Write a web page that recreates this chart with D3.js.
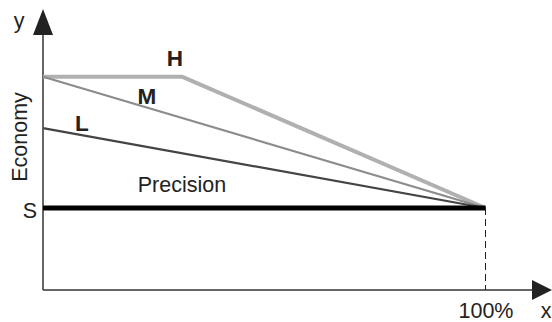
<!DOCTYPE html>
<html>
<head>
<meta charset="utf-8">
<script src="https://cdn.jsdelivr.net/npm/d3@7"></script>
<style>
  body { margin: 0; background: #fff; }
  text { font-family: "Liberation Sans", Arial, sans-serif; fill: #222; }
</style>
</head>
<body>
<script>
const width = 552;
const height = 322;

// percent along x, level along y (arbitrary units)
const levelS = 4;
const seriesH = [[0, 10.4], [31.5, 10.4], [100, 4]];
const seriesM = [[0, 10.4], [100, 4]];
const seriesL = [[0, 7.9], [100, 4]];
const seriesS = [[0, 4], [100, 4]];
const lineLabels = [
  { text: 'H', at: [29.8, 10.95] },
  { text: 'M', at: [23.5, 9.05] },
  { text: 'L', at: [8.8, 7.75] }
];

const x = d3.scaleLinear().domain([0, 100]).range([43, 485.5]);
const y = d3.scaleLinear().domain([0, 10]).range([290, 85]);

const svg = d3.select('body').append('svg')
  .attr('width', width)
  .attr('height', height);

const line = d3.line().x(d => x(d[0])).y(d => y(d[1]));

// axes
svg.append('line')
  .attr('x1', x(0)).attr('y1', y(0))
  .attr('x2', x(0)).attr('y2', 30)
  .attr('stroke', '#333').attr('stroke-width', 1.5);
svg.append('path')
  .attr('d', `M${x(0)},9 L${x(0) - 10},35 L${x(0) + 10},35 Z`)
  .attr('fill', '#222');

svg.append('line')
  .attr('x1', x(0)).attr('y1', y(0))
  .attr('x2', 535).attr('y2', y(0))
  .attr('stroke', '#333').attr('stroke-width', 1.5);
svg.append('path')
  .attr('d', `M552,${y(0)} L532,${y(0) - 10} L532,${y(0) + 10} Z`)
  .attr('fill', '#222');

// dashed drop at 100%
svg.append('line')
  .attr('x1', x(100)).attr('y1', y(levelS))
  .attr('x2', x(100)).attr('y2', y(0))
  .attr('stroke', '#222').attr('stroke-width', 1)
  .attr('stroke-dasharray', '7,4');

// series
svg.append('path').datum(seriesH).attr('d', line)
  .attr('fill', 'none').attr('stroke', '#b0b0b0').attr('stroke-width', 4)
  .attr('stroke-linejoin', 'round');
svg.append('path').datum(seriesM).attr('d', line)
  .attr('fill', 'none').attr('stroke', '#8c8c8c').attr('stroke-width', 2.2);
svg.append('path').datum(seriesL).attr('d', line)
  .attr('fill', 'none').attr('stroke', '#444').attr('stroke-width', 2.2);
svg.append('path').datum(seriesS).attr('d', line)
  .attr('fill', 'none').attr('stroke', '#000').attr('stroke-width', 5);

// labels
svg.selectAll('.lbl')
  .data(lineLabels)
  .enter().append('text')
  .attr('class', 'lbl')
  .attr('x', d => x(d.at[0]))
  .attr('y', d => y(d.at[1]))
  .attr('text-anchor', 'middle')
  .attr('font-size', 22.5)
  .attr('font-weight', 'bold')
  .text(d => d.text);

svg.append('text')
  .attr('x', 182).attr('y', 192)
  .attr('text-anchor', 'middle').attr('font-size', 21.5)
  .text('Precision');

svg.append('text')
  .attr('x', 30).attr('y', 218)
  .attr('text-anchor', 'middle').attr('font-size', 21.5)
  .text('S');

svg.append('text')
  .attr('transform', 'translate(26.5,137) rotate(-90)')
  .attr('text-anchor', 'middle').attr('font-size', 21.5)
  .text('Economy');

svg.append('text')
  .attr('x', 19).attr('y', 28)
  .attr('text-anchor', 'middle').attr('font-size', 21.5)
  .text('y');

svg.append('text')
  .attr('x', 486).attr('y', 318)
  .attr('text-anchor', 'middle').attr('font-size', 21.5)
  .text('100%');

svg.append('text')
  .attr('x', 546).attr('y', 318)
  .attr('text-anchor', 'middle').attr('font-size', 21.5)
  .text('x');
</script>
</body>
</html>
